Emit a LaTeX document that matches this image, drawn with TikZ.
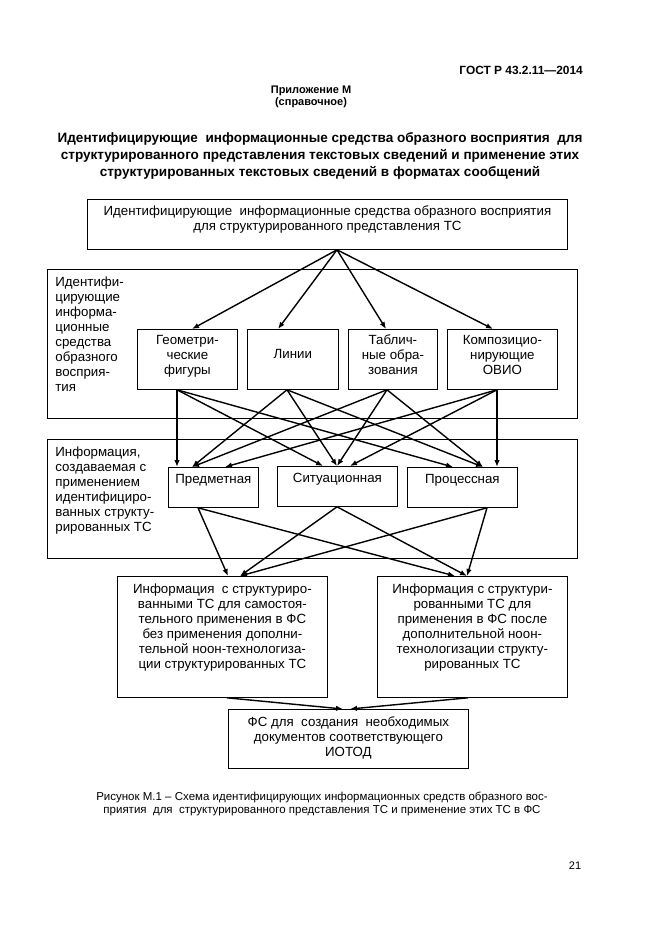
\documentclass[tikz,border=0pt]{standalone}
\usepackage{fontspec}
\setmainfont{Liberation Sans}
\usetikzlibrary{arrows.meta,calc}
\newcommand{\dfont}{\fontsize{13.3}{15}\selectfont}

\begin{document}
\begin{tikzpicture}[x=1pt, y=-1pt,
  box/.style n args={3}{draw=black, line width=0.8pt, inner sep=0pt, anchor=north west, font=\dfont,
    execute at begin node={\begin{minipage}[c][#2][t]{#1}\centering\vspace*{#3}\strut},
    execute at end node={\end{minipage}}},
  group/.style={draw=black, line width=0.8pt, inner sep=0pt, anchor=north west, font=\dfont,
    execute at begin node={\begin{minipage}[c][#1][t]{530pt}\raggedright\leftskip=8pt\vspace*{7pt}\strut},
    execute at end node={\end{minipage}}},
  arr/.style={line width=1.4pt, -{Latex[length=7pt,width=5.5pt]}}]
\useasboundingbox (0,0) rectangle (661,936);

\node[font=\fontsize{11.9}{13}\selectfont\bfseries, anchor=east, inner sep=0pt] (gost) at (583,70) {ГОСТ Р 43.2.11—2014};
\node[font=\fontsize{11}{12}\selectfont\bfseries, align=center] (annex) at (311,97) {Приложение М\\(справочное)};
\node[font=\fontsize{13.55}{17}\selectfont\bfseries, align=center] (title) at (320,156)
  {Идентифицирующие\ \ информационные средства образного восприятия\ \ для\\
   структурированного представления текстовых сведений и применение этих\\
   структурированных текстовых сведений в форматах сообщений};

\node[group=149pt] (grpA) at (47,269) {Идентифи-\\цирующие\\информа-\\ционные\\средства\\образного\\восприя-\\тия};
\node[group=119pt] (grpB) at (47,439) {Информация,\\создаваемая с\\применением\\идентифициро-\\ванных структу-\\рированных ТС};

\node[box={480pt}{50pt}{6pt}] (top) at (87,199)
  {Идентифицирующие\ \ информационные средства образного восприятия\\для структурированного представления ТС};
\node[box={100pt}{60pt}{5pt}] (geom) at (137,329) {Геометри-\\ческие\\фигуры};
\node[box={91pt}{60pt}{19pt}] (lines) at (247,329) {Линии};
\node[box={89pt}{60pt}{5pt}] (tabl) at (348,329) {Таблич-\\ные обра-\\зования};
\node[box={110pt}{60pt}{5pt}] (komp) at (447,329) {Композицио-\\нирующие\\ОВИО};
\node[box={90pt}{40pt}{5.5pt}] (predm) at (168,467) {Предметная};
\node[box={120pt}{40pt}{5.5pt}] (sit) at (277,466) {Ситуационная};
\node[box={110pt}{40pt}{5.5pt}] (proc) at (407,467) {Процессная};
\node[box={210pt}{121pt}{7pt}] (infA) at (117,576)
  {Информация\ \ с структуриро-\\ванными ТС для самостоя-\\тельного применения в ФС\\без применения дополни-\\тельной ноон-технологиза-\\ции структурированных ТС};
\node[box={190pt}{121pt}{7pt}] (infB) at (377,576)
  {Информация с структури-\\рованными ТС для\\применения в ФС после\\дополнительной ноон-\\технологизации структу-\\рированных ТС};
\node[box={240pt}{59pt}{7pt}] (fs) at (228,709)
  {ФС для\ \ создания\ \ необходимых\\документов соответствующего\\ИОТОД};

\draw[arr] ($(top.south west)+(250,0)$) -- ($(geom.north west)+(55,0)$);
\draw[arr] ($(top.south west)+(250,0)$) -- ($(lines.north west)+(31,0)$);
\draw[arr] ($(top.south west)+(250,0)$) -- ($(tabl.north west)+(38,0)$);
\draw[arr] ($(top.south west)+(250,0)$) -- ($(komp.north west)+(46,0)$);

\draw[arr] ($(geom.south west)+(40,0)$) -- ($(predm.north west)+(9,0)$);
\draw[arr] ($(geom.south west)+(40,0)$) -- ($(sit.north west)+(46,0)$);
\draw[arr] ($(geom.south west)+(40,0)$) -- ($(proc.north west)+(46,0)$);
\draw[arr] ($(lines.south west)+(40,0)$) -- ($(predm.north west)+(24,0)$);
\draw[arr] ($(lines.south west)+(40,0)$) -- ($(sit.north west)+(60,0)$);
\draw[arr] ($(lines.south west)+(40,0)$) -- ($(proc.north west)+(76,0)$);
\draw[arr] ($(tabl.south west)+(39,0)$) -- ($(predm.north west)+(24,0)$);
\draw[arr] ($(tabl.south west)+(39,0)$) -- ($(sit.north west)+(60,0)$);
\draw[arr] ($(tabl.south west)+(39,0)$) -- ($(proc.north west)+(76,0)$);
\draw[arr] ($(komp.south west)+(50,0)$) -- ($(predm.north west)+(57,0)$);
\draw[arr] ($(komp.south west)+(50,0)$) -- ($(sit.north west)+(73,0)$);
\draw[arr] ($(komp.south west)+(50,0)$) -- ($(proc.north west)+(90,0)$);

\draw[arr] ($(predm.south west)+(30,0)$) -- ($(infA.north west)+(111,0)$);
\draw[arr] ($(predm.south west)+(30,0)$) -- ($(infB.north west)+(78,0)$);
\draw[arr] ($(sit.south west)+(60,0)$) -- ($(infA.north west)+(123,0)$);
\draw[arr] ($(sit.south west)+(60,0)$) -- ($(infB.north west)+(90,0)$);
\draw[arr] ($(proc.south west)+(80,0)$) -- ($(infA.north west)+(123,0)$);
\draw[arr] ($(proc.south west)+(80,0)$) -- ($(infB.north west)+(90,0)$);

\draw[arr] ($(infA.south west)+(110,0)$) -- ($(fs.north west)+(115,0)$);
\draw[arr] ($(infB.south west)+(91,0)$) -- ($(fs.north west)+(122,0)$);

\node[font=\fontsize{11.5}{13}\selectfont, align=center] (caption) at (322,803.5)
  {Рисунок М.1 – Схема идентифицирующих информационных средств образного вос-\\
   приятия\ \ для\ \ структурированного представления ТС и применение этих ТС в ФС};
\node[font=\fontsize{11}{13}\selectfont] (page) at (575,866) {21};
\end{tikzpicture}
\end{document}
